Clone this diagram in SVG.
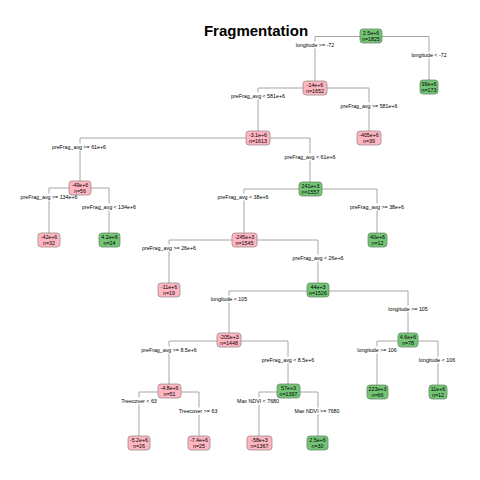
<svg xmlns="http://www.w3.org/2000/svg" width="480" height="480" viewBox="0 0 480 480">
<style>
.t{font-family:"Liberation Sans",Arial,sans-serif;font-size:5.3px;fill:#000;text-anchor:middle}
.title{font-family:"Liberation Sans",Arial,sans-serif;font-size:15px;font-weight:bold;fill:#000;text-anchor:middle}
.g rect{fill:#74C476;stroke:#6a8a6a;stroke-width:0.8}
.p rect{fill:#FFB6C1;stroke:#9a8a8c;stroke-width:0.8}
.c{fill:none;stroke:#a6a6a6;stroke-width:1}
.lb{fill:#fff}
</style>
<rect width="480" height="480" fill="#fff"/>
<text class="title" x="256" y="36">Fragmentation</text>
<g id="connectors">
<path class="c" d="M315,81 V36.5 H429 V80"/>
<path class="c" d="M258,131 V88 H369 V131"/>
<path class="c" d="M80,181 V138 H310 V182"/>
<path class="c" d="M49,233 V188 H109 V233"/>
<path class="c" d="M244,233 V189 H377 V233"/>
<path class="c" d="M169,283 V240 H318 V283"/>
<path class="c" d="M229,333 V291 H408 V333"/>
<path class="c" d="M169,384 V341 H288 V384"/>
<path class="c" d="M377,385 V341 H438 V385"/>
<path class="c" d="M139,436 V392 H199 V436"/>
<path class="c" d="M259,436 V392 H318 V436"/>
</g>
<g id="labels">
<rect class="lb" x="311" y="41.5" width="8" height="7"/><text class="t" x="315" y="47">longitude &gt;= -72</text>
<rect class="lb" x="425" y="51.5" width="8" height="7"/><text class="t" x="429" y="57">longitude &lt; -72</text>
<rect class="lb" x="254" y="92.5" width="8" height="7"/><text class="t" x="258" y="98">preFrag_avg &lt; 581e+6</text>
<rect class="lb" x="365" y="102.5" width="8" height="7"/><text class="t" x="369" y="108">preFrag_avg &gt;= 581e+6</text>
<rect class="lb" x="76" y="143.5" width="8" height="7"/><text class="t" x="79" y="149">preFrag_avg &gt;= 61e+6</text>
<rect class="lb" x="306" y="153.5" width="8" height="7"/><text class="t" x="310" y="159">preFrag_avg &lt; 61e+6</text>
<rect class="lb" x="45" y="193.5" width="8" height="7"/><text class="t" x="49" y="199">preFrag_avg &gt;= 134e+6</text>
<rect class="lb" x="105" y="203.5" width="8" height="7"/><text class="t" x="109" y="209">preFrag_avg &lt; 134e+6</text>
<rect class="lb" x="240" y="193.5" width="8" height="7"/><text class="t" x="243" y="199">preFrag_avg &lt; 38e+6</text>
<rect class="lb" x="373" y="203.5" width="8" height="7"/><text class="t" x="377" y="209">preFrag_avg &gt;= 38e+6</text>
<rect class="lb" x="165" y="244.5" width="8" height="7"/><text class="t" x="169" y="250">preFrag_avg &gt;= 26e+6</text>
<rect class="lb" x="314" y="254.5" width="8" height="7"/><text class="t" x="318" y="260">preFrag_avg &lt; 26e+6</text>
<rect class="lb" x="225" y="295.5" width="8" height="7"/><text class="t" x="229" y="301">longitude &lt; 105</text>
<rect class="lb" x="404" y="305.5" width="8" height="7"/><text class="t" x="408" y="311">longitude &gt;= 105</text>
<rect class="lb" x="165" y="346.5" width="8" height="7"/><text class="t" x="169" y="352">preFrag_avg &gt;= 8.5e+6</text>
<rect class="lb" x="284" y="356.5" width="8" height="7"/><text class="t" x="288" y="362">preFrag_avg &lt; 8.5e+6</text>
<rect class="lb" x="373" y="346.5" width="8" height="7"/><text class="t" x="377" y="352">longitude &gt;= 106</text>
<rect class="lb" x="434" y="356.5" width="8" height="7"/><text class="t" x="437" y="362">longitude &lt; 106</text>
<rect class="lb" x="135" y="397.5" width="8" height="7"/><text class="t" x="139" y="403">Treecover &lt; 63</text>
<rect class="lb" x="195" y="407.5" width="8" height="7"/><text class="t" x="198" y="413">Treecover &gt;= 63</text>
<rect class="lb" x="255" y="397.5" width="8" height="7"/><text class="t" x="258" y="403">Max NDVI &lt; 7680</text>
<rect class="lb" x="314" y="407.5" width="8" height="7"/><text class="t" x="317" y="413">Max NDVI &gt;= 7680</text>
</g>
<g id="n1" class="g"><rect x="360" y="29" width="22" height="14" rx="3"/><text class="t" x="371" y="35">2.5e+6</text><text class="t" x="371" y="41">n=1825</text></g>
<g id="n2" class="p"><rect x="303" y="81" width="24" height="14" rx="3"/><text class="t" x="315" y="87">-14e+6</text><text class="t" x="315" y="93">n=1652</text></g>
<g id="n3" class="g"><rect x="420" y="80" width="18" height="14" rx="3"/><text class="t" x="429" y="86">99e+6</text><text class="t" x="429" y="92">n=173</text></g>
<g id="n4" class="p"><rect x="246" y="131" width="24" height="14" rx="3"/><text class="t" x="258" y="137">-3.1e+6</text><text class="t" x="258" y="143">n=1613</text></g>
<g id="n5" class="p"><rect x="357" y="131" width="24" height="14" rx="3"/><text class="t" x="369" y="137">-405e+6</text><text class="t" x="369" y="143">n=39</text></g>
<g id="n6" class="p"><rect x="69" y="181" width="22" height="14" rx="3"/><text class="t" x="80" y="187">-49e+6</text><text class="t" x="80" y="193">n=56</text></g>
<g id="n7" class="g"><rect x="299" y="182" width="23" height="14" rx="3"/><text class="t" x="310.5" y="188">241e+3</text><text class="t" x="310.5" y="194">n=1557</text></g>
<g id="n8" class="p"><rect x="38" y="233" width="22" height="14" rx="3"/><text class="t" x="49" y="239">-42e+6</text><text class="t" x="49" y="245">n=32</text></g>
<g id="n9" class="g"><rect x="99" y="233" width="21" height="14" rx="3"/><text class="t" x="109.5" y="239">4.2e+6</text><text class="t" x="109.5" y="245">n=24</text></g>
<g id="n10" class="p"><rect x="232" y="233" width="25" height="14" rx="3"/><text class="t" x="244.5" y="239">-245e+3</text><text class="t" x="244.5" y="245">n=1545</text></g>
<g id="n11" class="g"><rect x="368" y="233" width="19" height="14" rx="3"/><text class="t" x="377.5" y="239">40e+6</text><text class="t" x="377.5" y="245">n=12</text></g>
<g id="n12" class="p"><rect x="158" y="283" width="22" height="14" rx="3"/><text class="t" x="169" y="289">-11e+6</text><text class="t" x="169" y="295">n=19</text></g>
<g id="n13" class="g"><rect x="307" y="283" width="22" height="14" rx="3"/><text class="t" x="318" y="289">44e+3</text><text class="t" x="318" y="295">n=1526</text></g>
<g id="n14" class="p"><rect x="217" y="333" width="24" height="14" rx="3"/><text class="t" x="229" y="339">-205e+3</text><text class="t" x="229" y="345">n=1448</text></g>
<g id="n15" class="g"><rect x="398" y="333" width="20" height="14" rx="3"/><text class="t" x="408" y="339">4.6e+6</text><text class="t" x="408" y="345">n=78</text></g>
<g id="n16" class="p"><rect x="158" y="384" width="23" height="14" rx="3"/><text class="t" x="169.5" y="390">-4.8e+6</text><text class="t" x="169.5" y="396">n=51</text></g>
<g id="n17" class="g"><rect x="277" y="384" width="23" height="14" rx="3"/><text class="t" x="288.5" y="390">57e+3</text><text class="t" x="288.5" y="396">n=1397</text></g>
<g id="n18" class="g"><rect x="367" y="385" width="21" height="14" rx="3"/><text class="t" x="377.5" y="391">223e+3</text><text class="t" x="377.5" y="397">n=66</text></g>
<g id="n19" class="g"><rect x="429" y="385" width="18" height="14" rx="3"/><text class="t" x="438" y="391">11e+6</text><text class="t" x="438" y="397">n=12</text></g>
<g id="n20" class="p"><rect x="128" y="436" width="22" height="14" rx="3"/><text class="t" x="139" y="442">-5.2e+6</text><text class="t" x="139" y="448">n=26</text></g>
<g id="n21" class="p"><rect x="188" y="436" width="22" height="14" rx="3"/><text class="t" x="199" y="442">-7.4e+6</text><text class="t" x="199" y="448">n=25</text></g>
<g id="n22" class="p"><rect x="247" y="436" width="25" height="14" rx="3"/><text class="t" x="259.5" y="442">-58e+3</text><text class="t" x="259.5" y="448">n=1367</text></g>
<g id="n23" class="g"><rect x="307" y="436" width="21" height="14" rx="3"/><text class="t" x="317.5" y="442">2.5e+6</text><text class="t" x="317.5" y="448">n=30</text></g>
</svg>
